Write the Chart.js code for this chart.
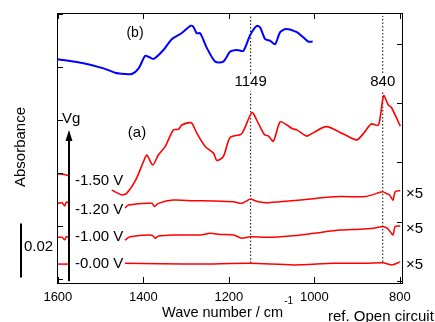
<!DOCTYPE html>
<html>
<head>
<meta charset="utf-8">
<script src="https://cdn.jsdelivr.net/npm/chart.js@4.4.1/dist/chart.umd.min.js"></script>
<style>
    body { margin: 0; background: #fff; }
    canvas { display: block; }
</style>
</head>
<body>
<canvas id="chart" width="435" height="322"></canvas>
<script>
const FONT = 'Arial, "Liberation Sans", Helvetica, sans-serif'

// axis ticks (wave number / absorbance)
const xTicks = [1600, 1400, 1200, 1000, 800]
const leftTicks = [0.0015, 0.0211, 0.0407, 0.0604, 0.0800, 0.0996]
const rightTicks = [0.0007, 0.0226, 0.0448, 0.0667, 0.0885]

// spectra as [wave number, absorbance (offset)] pairs
const spectrumB = [
    [1600, 0.0829], [1540, 0.0814], [1493, 0.0795], [1466, 0.0779], [1443, 0.0774],
    [1427, 0.0774], [1411, 0.0795], [1396, 0.0841], [1388, 0.0838], [1376, 0.0830],
    [1353, 0.0863], [1333, 0.0904], [1310, 0.0926], [1289, 0.0953], [1283, 0.0949],
    [1275, 0.0925], [1267, 0.0925], [1251, 0.0869], [1232, 0.0820], [1213, 0.0820],
    [1197, 0.0857], [1181, 0.0863], [1166, 0.0860], [1150, 0.0919], [1135, 0.0952],
    [1127, 0.0947], [1115, 0.0903], [1103, 0.0897], [1092, 0.0884], [1080, 0.0929],
    [1066, 0.0941], [1041, 0.0929], [1026, 0.0910], [1014, 0.0894], [1004, 0.0894]
]

const spectrumA = [
    [1474, 0.0344], [1450, 0.0326], [1439, 0.0332], [1419, 0.0378], [1400, 0.0448],
    [1392, 0.0474], [1378, 0.0437], [1365, 0.0474], [1349, 0.0505], [1330, 0.0567],
    [1318, 0.0569], [1310, 0.0585], [1293, 0.0594], [1286, 0.0591], [1274, 0.0552],
    [1255, 0.0505], [1236, 0.0481], [1228, 0.0454], [1213, 0.0468], [1197, 0.0539],
    [1170, 0.0553], [1146, 0.0631], [1131, 0.0591], [1117, 0.0550], [1107, 0.0544],
    [1096, 0.0525], [1080, 0.0597], [1064, 0.0585], [1051, 0.0571], [1041, 0.0567],
    [1018, 0.0544], [1002, 0.0557], [972, 0.0579], [932, 0.0552], [901, 0.0530],
    [884, 0.0556], [867, 0.0589], [850, 0.0585], [838, 0.0694], [827, 0.0659],
    [820, 0.0651], [799, 0.0581]
]

const spectrum120 = [
    [1443, 0.0278], [1435, 0.0289], [1380, 0.0295], [1374, 0.0283], [1365, 0.0295],
    [1330, 0.0307], [1283, 0.0305], [1236, 0.0304], [1189, 0.0301], [1170, 0.0295],
    [1150, 0.0310], [1131, 0.0301], [1111, 0.0297], [1080, 0.0301], [1033, 0.0307],
    [994, 0.0314], [940, 0.0320], [881, 0.0320], [854, 0.0332], [840, 0.0338],
    [830, 0.0330], [824, 0.0326], [816, 0.0307], [811, 0.0338], [799, 0.0342]
]

const spectrum100 = [
    [1443, 0.0159], [1431, 0.0171], [1380, 0.0177], [1372, 0.0166], [1365, 0.0174],
    [1330, 0.0178], [1267, 0.0178], [1244, 0.0184], [1220, 0.0180], [1189, 0.0178],
    [1170, 0.0166], [1150, 0.0171], [1111, 0.0169], [1057, 0.0174], [1002, 0.0184],
    [940, 0.0196], [893, 0.0199], [862, 0.0203], [840, 0.0209], [830, 0.0203],
    [824, 0.0193], [816, 0.0178], [811, 0.0209], [799, 0.0211]
]

const spectrum000 = [
    [1443, 0.0073], [1360, 0.0071], [1267, 0.0070], [1150, 0.0073], [1049, 0.0067],
    [955, 0.0073], [877, 0.0073], [840, 0.0075], [819, 0.0067], [799, 0.0079]
]

// short pieces left of the voltage labels
const stub150 = [[1600, 0.0404], [1585, 0.0402], [1576, 0.0398]]
const stub120 = [[1600, 0.0295], [1590, 0.0297], [1584, 0.0285], [1580, 0.0300], [1576, 0.0297]]
const stub100 = [[1600, 0.0169], [1590, 0.0169], [1584, 0.0160], [1580, 0.0172], [1576, 0.0170]]
const stub000 = [[1600, 0.0070], [1576, 0.0070]]

// marked peaks: [wave number, bottom, top]
const peakMarks = [[1149, 0.0074, 0.0989], [840, 0.0078, 0.0989]]

const voltageLabels = ['-1.50 V', '-1.20 V', '-1.00 V', '-0.00 V']
const voltageLabelY = [181, 210, 237, 264]
const scaleLabelY = [194, 229, 265]

// Vg arrow and scale bar (in data units)
const arrowWave = 1574
const arrowRange = [0.0007, 0.0567]
const scaleBar = [0.002, 0.022]

function lineDataset(points, color, width, dash) {
    return {
        data: points.map(([w, a]) => ({ x: w, y: a })),
        borderColor: color,
        borderWidth: width,
        borderDash: dash || [],
        pointRadius: 0,
        tension: dash ? 0 : 0.25,
        fill: false
    }
}

function boxedText(ctx, text, cx, cy) {
    const w = ctx.measureText(text).width
    ctx.fillStyle = '#fff'
    ctx.fillRect(cx - w / 2 - 2, cy - 8, w + 4, 17)
    ctx.fillStyle = '#000'
    ctx.fillText(text, cx, cy)
}

const decorations = {
    id: 'decorations',
    afterDraw(chart) {
        const { ctx, chartArea: area, scales: { x, y } } = chart
        ctx.save()

        // frame + inward ticks
        ctx.strokeStyle = '#000'
        ctx.lineWidth = 1
        ctx.strokeRect(area.left + 0.5, area.top + 0.5, area.right - area.left, area.bottom - area.top)
        ctx.beginPath()
        xTicks.forEach(v => {
            const px = Math.round(x.getPixelForValue(v)) + 0.5
            ctx.moveTo(px, area.bottom); ctx.lineTo(px, area.bottom - 6)
            ctx.moveTo(px, area.top); ctx.lineTo(px, area.top + 6)
        })
        leftTicks.forEach(v => {
            const py = Math.round(y.getPixelForValue(v)) + 0.5
            ctx.moveTo(area.left, py); ctx.lineTo(area.left + 6, py)
        })
        rightTicks.forEach(v => {
            const py = Math.round(y.getPixelForValue(v)) + 0.5
            ctx.moveTo(area.right + 1, py); ctx.lineTo(area.right - 5, py)
        })
        ctx.stroke()

        // Vg arrow
        const ax = x.getPixelForValue(arrowWave)
        const aBottom = y.getPixelForValue(arrowRange[0])
        const aTop = y.getPixelForValue(arrowRange[1])
        ctx.lineWidth = 2
        ctx.beginPath()
        ctx.moveTo(ax, aBottom); ctx.lineTo(ax, aTop + 8)
        ctx.stroke()
        ctx.fillStyle = '#000'
        ctx.beginPath()
        ctx.moveTo(ax, aTop); ctx.lineTo(ax - 3.5, aTop + 11); ctx.lineTo(ax + 3.5, aTop + 11)
        ctx.closePath()
        ctx.fill()

        // scale bar
        ctx.beginPath()
        ctx.moveTo(21, y.getPixelForValue(scaleBar[0]))
        ctx.lineTo(21, y.getPixelForValue(scaleBar[1]))
        ctx.stroke()

        // texts
        ctx.fillStyle = '#000'
        ctx.textBaseline = 'middle'
        ctx.textAlign = 'center'
        ctx.font = `13px ${FONT}`
        xTicks.forEach(v => ctx.fillText(String(v), x.getPixelForValue(v), 297))

        ctx.font = `15px ${FONT}`
        peakMarks.forEach(([w]) => boxedText(ctx, String(w), x.getPixelForValue(w), 82))
        ctx.fillText('(a)', 137, 133)
        ctx.font = `14px ${FONT}`
        ctx.fillText('(b)', 135, 33)

        ctx.font = `15px ${FONT}`
        ctx.textAlign = 'left'
        ctx.fillText('Vg', 62, 119)
        voltageLabels.forEach((t, i) => ctx.fillText(t, 75, voltageLabelY[i]))
        scaleLabelY.forEach(py => ctx.fillText('\u00d75', 406, py))
        ctx.fillText('0.02', 24, 247)

        ctx.font = `14.5px ${FONT}`
        const title = 'Wave number / cm'
        ctx.fillText(title, 162, 313)
        const tw = ctx.measureText(title).width
        ctx.font = `10px ${FONT}`
        ctx.fillText('-1', 162 + tw + 1, 301)

        ctx.font = `15px ${FONT}`
        ctx.fillText('ref. Open circuit', 328, 317)

        ctx.translate(21, 147)
        ctx.rotate(-Math.PI / 2)
        ctx.textAlign = 'center'
        ctx.fillText('Absorbance', 0, 0)

        ctx.restore()
    }
}

const RED = '#ff0000'
const BLUE = '#0000ff'

new Chart(document.querySelector('#chart'), {
    type: 'line',
    data: {
        datasets: [
            lineDataset(spectrumB, BLUE, 2),
            lineDataset(spectrumA, RED, 1.6),
            lineDataset(spectrum120, RED, 1.5),
            lineDataset(spectrum100, RED, 1.5),
            lineDataset(spectrum000, RED, 1.5),
            lineDataset(stub150, RED, 1.5),
            lineDataset(stub120, RED, 1.5),
            lineDataset(stub100, RED, 1.5),
            lineDataset(stub000, RED, 1.5),
            ...peakMarks.map(([w, lo, hi]) => lineDataset([[w, lo], [w, hi]], '#000', 1, [1.5, 2]))
        ]
    },
    options: {
        responsive: false,
        animation: false,
        layout: { padding: { left: 57, right: 33, top: 13, bottom: 39 } },
        plugins: {
            legend: { display: false },
            tooltip: { enabled: false }
        },
        scales: {
            x: { type: 'linear', reverse: true, min: 795, max: 1602, display: false },
            y: { type: 'linear', min: 0, max: 0.1, display: false }
        }
    },
    plugins: [decorations]
})
</script>
</body>
</html>
